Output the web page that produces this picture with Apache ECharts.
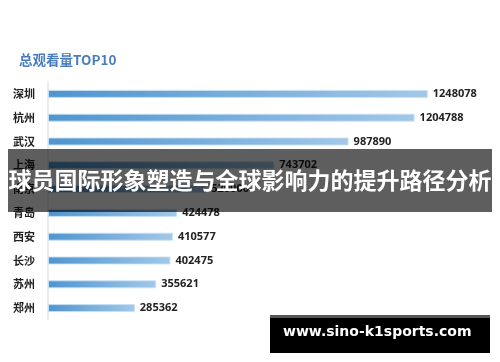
<!DOCTYPE html>
<html>
<head>
<meta charset="utf-8">
<script src="https://cdn.jsdelivr.net/npm/echarts@6/dist/echarts.min.js"></script>
<style>
html,body{margin:0;padding:0;background:#fff;}
#c{width:500px;height:362px;}
</style>
</head>
<body>
<div id="c"></div>
<script>
const titleText = '总观看量TOP10';
const cities = ['深圳','杭州','武汉','上海','南京','青岛','西安','长沙','苏州','郑州'];
const views = [1248078, 1204788, 987890, 743702, 520000, 424478, 410577, 402475, 355621, 285362];
const bannerText = '球员国际形象塑造与全球影响力的提升路径分析';
const siteText = 'www.sino-k1sports.com';

const chart = echarts.init(document.getElementById('c'));
const fontCJK = '"Noto Sans CJK SC", "Noto Sans", sans-serif';
chart.setOption({
  animation: false,
  backgroundColor: '#fff',
  title: {
    text: titleText,
    left: 14, top: 48,
    textStyle: {color: '#4a7cc0', fontSize: 13.5, fontWeight: 'bold', fontFamily: fontCJK}
  },
  grid: {left: 48, top: 82, width: 426, height: 238, containLabel: false},
  xAxis: {
    type: 'value', min: 0, max: 1400000,
    show: false
  },
  yAxis: {
    type: 'category',
    data: cities,
    inverse: true,
    axisLine: {show: true, lineStyle: {color: '#e6e6e6', width: 1.5}},
    axisTick: {show: false},
    axisLabel: {color: '#222', fontSize: 11, fontWeight: 'bold', fontFamily: fontCJK, margin: 13}
  },
  series: [{
    type: 'bar',
    data: views,
    barWidth: 8,
    itemStyle: {
      color: new echarts.graphic.LinearGradient(0, 0, 1, 0, [
        {offset: 0, color: '#4f95cf'},
        {offset: 1, color: '#a2c8e8'}
      ]),
      borderColor: 'rgba(200,225,245,0.9)',
      borderWidth: 1
    },
    label: {
      show: true, position: 'right', distance: 5,
      color: '#222', fontSize: 11, fontWeight: 'bold', fontFamily: '"Open Sans", sans-serif'
    }
  }],
  graphic: [
    {
      type: 'rect', left: 8, top: 149, z: 100,
      shape: {width: 484, height: 63},
      style: {fill: 'rgba(0,0,0,0.63)'}
    },
    {
      type: 'text', left: 'center', top: 169, z: 101,
      style: {text: bannerText, fill: '#fff', font: 'bold 23px "Noto Sans CJK SC", sans-serif'}
    },
    {
      type: 'rect', left: 270, top: 315, z: 100,
      shape: {width: 220, height: 38},
      style: {fill: '#000'}
    },
    {
      type: 'rect', left: 270, top: 315, z: 101,
      shape: {width: 220, height: 3},
      style: {fill: '#555'}
    },
    {
      type: 'text', left: 283, top: 325, z: 102,
      style: {text: siteText, fill: '#fff', font: 'bold 14px "DejaVu Sans", sans-serif'}
    }
  ]
});
</script>
</body>
</html>
